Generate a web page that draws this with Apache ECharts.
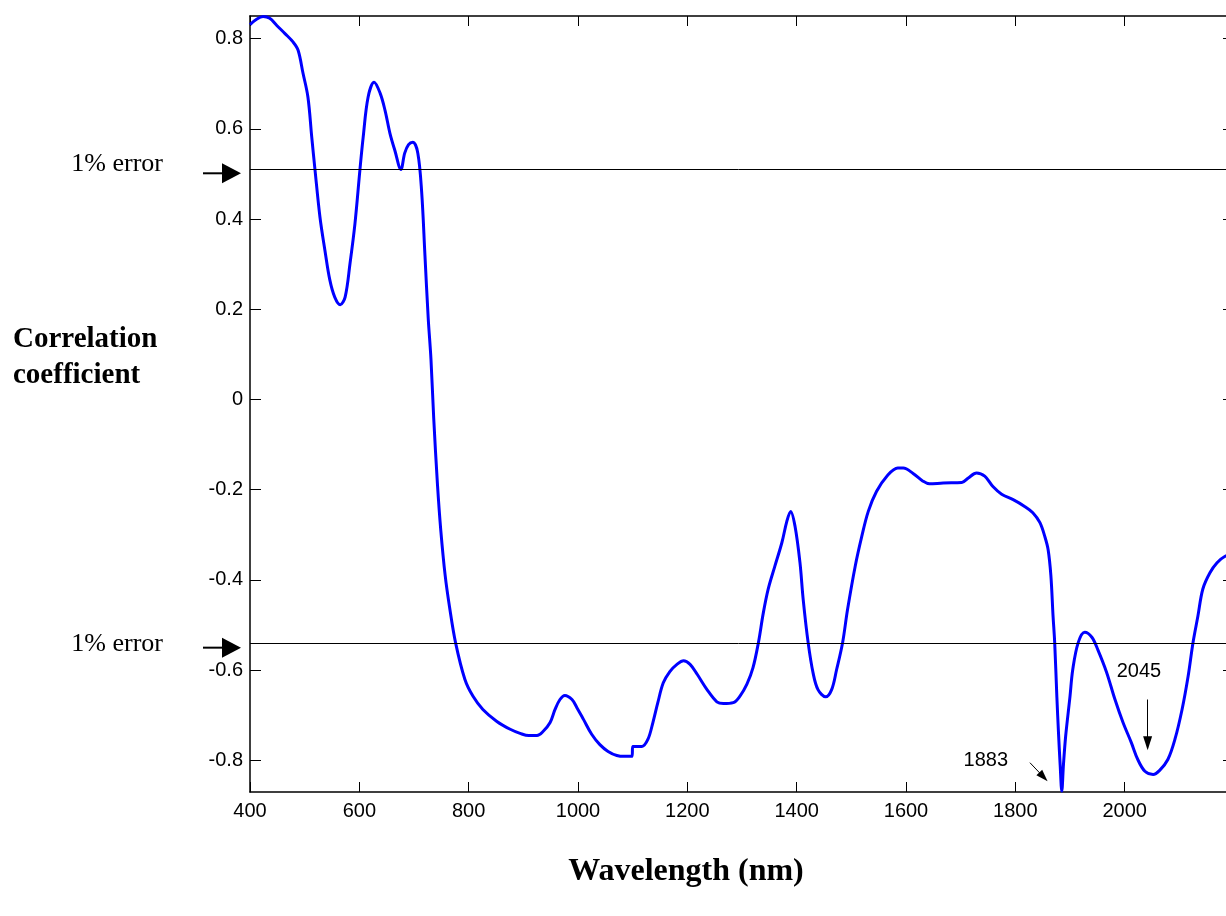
<!DOCTYPE html>
<html>
<head>
<meta charset="utf-8">
<script src="https://cdn.jsdelivr.net/npm/echarts@6/dist/echarts.min.js"></script>
<style>
html,body{margin:0;padding:0;background:#fff;}
#c{width:1226px;height:916px;}
</style>
</head>
<body>
<div id="c"></div>
<script>
// ---- data ----
const wavelength = [400,412,424,436,449,464,479,488,497,506,513,519,528,537,546,555,565,574,583,592,601,607,616,627,638,647,656,665,676,683,690,698,707,714,720,726,731,736,743,749,757,765,776,793,808,826,851,876,894,910,925,936,949,958,967,976,989,998,1010,1025,1040,1055,1071,1085,1099,1100,1117,1128,1137,1146,1156,1168,1181,1193,1205,1218,1236,1254,1266,1284,1296,1309,1320,1330,1339,1348,1360,1373,1382,1389,1397,1406,1412,1421,1430,1439,1453,1464,1473,1484,1493,1507,1519,1531,1546,1565,1585,1595,1613,1631,1643,1668,1702,1714,1729,1744,1759,1775,1796,1817,1832,1845,1854,1860,1865,1869,1872,1876,1879,1882,1885,1888,1892,1900,1905,1915,1927,1940,1951,1967,1982,1997,2012,2024,2037,2052,2064,2079,2092,2105,2116,2125,2134,2143,2156,2169,2183,2200];
const correlation = [0.831,0.843,0.849,0.845,0.829,0.811,0.792,0.774,0.723,0.67,0.581,0.508,0.404,0.331,0.265,0.227,0.21,0.227,0.302,0.39,0.508,0.581,0.67,0.703,0.679,0.641,0.59,0.552,0.51,0.546,0.565,0.57,0.546,0.46,0.32,0.18,0.09,-0.04,-0.19,-0.29,-0.39,-0.46,-0.539,-0.62,-0.658,-0.687,-0.713,-0.731,-0.74,-0.745,-0.745,-0.736,-0.716,-0.687,-0.665,-0.656,-0.665,-0.683,-0.709,-0.742,-0.765,-0.78,-0.789,-0.791,-0.791,-0.769,-0.769,-0.753,-0.716,-0.672,-0.628,-0.603,-0.587,-0.579,-0.587,-0.609,-0.643,-0.67,-0.674,-0.672,-0.658,-0.631,-0.595,-0.539,-0.473,-0.42,-0.37,-0.317,-0.27,-0.248,-0.281,-0.361,-0.444,-0.539,-0.606,-0.643,-0.659,-0.643,-0.599,-0.539,-0.466,-0.37,-0.304,-0.248,-0.204,-0.17,-0.152,-0.152,-0.164,-0.181,-0.187,-0.185,-0.184,-0.174,-0.163,-0.17,-0.193,-0.21,-0.222,-0.237,-0.251,-0.273,-0.304,-0.333,-0.39,-0.48,-0.539,-0.66,-0.74,-0.81,-0.868,-0.81,-0.747,-0.658,-0.599,-0.539,-0.516,-0.527,-0.555,-0.605,-0.664,-0.716,-0.76,-0.798,-0.824,-0.831,-0.822,-0.798,-0.753,-0.687,-0.614,-0.539,-0.48,-0.42,-0.384,-0.362,-0.348,-0.343];
const xTickValues = [400,600,800,1000,1200,1400,1600,1800,2000];
const yTickValues = [-0.8,-0.6,-0.4,-0.2,0,0.2,0.4,0.6,0.8];
const errorLevels = [0.508,-0.539];
const errorLabel = '1% error';
const peakLabels = ['1883','2045'];
const xTitle = 'Wavelength (nm)';
const yTitle = 'Correlation\ncoefficient';

// ---- chart ----
const chart = echarts.init(document.getElementById('c'), null, {renderer:'canvas'});
const pts = wavelength.map((w,i)=>[w, correlation[i]]);
const axLine = {show:true, onZero:false, lineStyle:{color:'#000', width:1.5}};
const tickStyle = {color:'#000', width:1};
const sans = 'Liberation Sans';
const serif = 'Liberation Serif';

const option = {
  animation:false,
  backgroundColor:'#fff',
  title:{
    text:yTitle,
    left:13, top:322, padding:0,
    textStyle:{fontFamily:serif, fontWeight:'bold', fontSize:29, lineHeight:36, color:'#000'}
  },
  grid:{left:250, top:16, width:984, height:776, outerBoundsMode:'none', containLabel:false},
  xAxis:[{
    type:'value', min:400, max:2200, position:'bottom',
    axisLine:axLine,
    axisTick:{show:true, inside:true, length:10, customValues:xTickValues, lineStyle:tickStyle},
    axisLabel:{show:true, customValues:xTickValues, margin:9, fontFamily:sans, fontSize:20, color:'#000',
      formatter:v=>String(v)},
    splitLine:{show:false}
  },{
    type:'value', min:400, max:2200, position:'top',
    axisLine:axLine,
    axisTick:{show:true, inside:true, length:10, customValues:xTickValues, lineStyle:tickStyle},
    axisLabel:{show:false},
    splitLine:{show:false}
  }],
  yAxis:[{
    type:'value', min:-0.87, max:0.85, position:'left',
    axisLine:axLine,
    axisTick:{show:true, inside:true, length:11, customValues:yTickValues, lineStyle:tickStyle},
    axisLabel:{show:true, customValues:yTickValues, margin:7, fontFamily:sans, fontSize:20, color:'#000',
      formatter:v=>String(Math.round(v*10)/10)},
    splitLine:{show:false}
  },{
    type:'value', min:-0.87, max:0.85, position:'right',
    axisLine:axLine,
    axisTick:{show:true, inside:true, length:11, customValues:yTickValues, lineStyle:tickStyle},
    axisLabel:{show:false},
    splitLine:{show:false}
  }],
  series:[{
    type:'line',
    data:pts,
    showSymbol:false,
    smooth:0.35,
    lineStyle:{color:'#0000ff', width:3, join:'round'},
    itemStyle:{color:'#0000ff'},
    markLine:{
      silent:true, animation:false, symbol:'none',
      label:{show:false},
      lineStyle:{color:'#000', width:1, type:'solid'},
      emphasis:{disabled:true},
      data:[
        {yAxis:errorLevels[0]},
        {yAxis:errorLevels[1]},
        [{coord:[2042,-0.665], symbol:'none'},{coord:[2042,-0.762], symbol:'triangle', symbolSize:[9,14]}],
        [{coord:[1826.7,-0.805], symbol:'none'},{coord:[1851.4,-0.8365], symbol:'triangle', symbolSize:[8,12]}]
      ]
    },
    markPoint:{
      silent:true, animation:false,
      symbol:'rect', symbolSize:1,
      itemStyle:{color:'rgba(0,0,0,0)'},
      label:{show:true, position:'inside', formatter:p=>p.name, fontFamily:sans, fontSize:20, color:'#000'},
      data:[
        {name:peakLabels[0], coord:[1746,-0.8]},
        {name:peakLabels[1], coord:[2026,-0.603]}
      ]
    }
  }]
};
chart.setOption(option);

// left-side "1% error" arrows, positioned from the y scale; x-axis title
const arrowOffsets = [3,5];
const textOffsets = [-6,2];
const g = [];
errorLevels.forEach((lv,i)=>{
  const y = chart.convertToPixel({yAxisIndex:0}, lv);
  const ay = y + arrowOffsets[i];
  g.push({type:'line', silent:true, shape:{x1:203,y1:ay,x2:224,y2:ay}, style:{stroke:'#000', lineWidth:2}});
  g.push({type:'polygon', silent:true, shape:{points:[[222,ay-10],[241,ay],[222,ay+10]]}, style:{fill:'#000'}});
  g.push({type:'text', silent:true, x:163, y:y+textOffsets[i],
    style:{text:errorLabel, fontFamily:serif, fontSize:26, fill:'#000', align:'right', verticalAlign:'middle'}});
});
g.push({type:'text', silent:true, x:686, y:872,
  style:{text:xTitle, fontFamily:serif, fontWeight:'bold', fontSize:32, fill:'#000', align:'center', verticalAlign:'middle'}});
chart.setOption({graphic:g});
</script>
</body>
</html>
